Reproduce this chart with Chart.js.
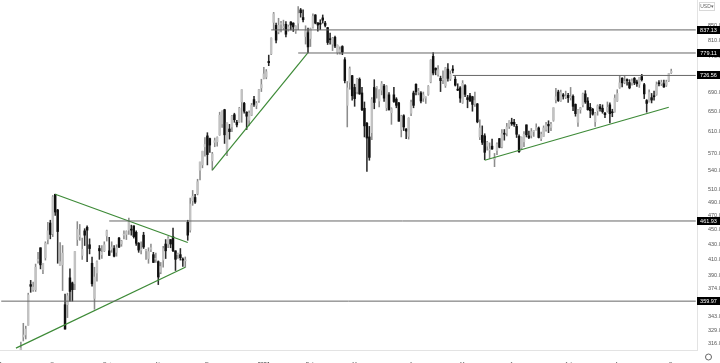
<!DOCTYPE html>
<html>
<head>
<meta charset="utf-8">
<script src="https://cdn.jsdelivr.net/npm/chart.js@4.4.1/dist/chart.umd.min.js"></script>
<style>
  html, body { margin: 0; padding: 0; background: #fff; }
  #wrap { width: 720px; height: 363px; position: relative; }
</style>
</head>
<body>
<div id="wrap"><canvas id="myChart"></canvas></div>
<script>
// daily candles, 2020-08-12 .. 2021-08-31, one line per month
const opens = [
  294,322,324,334,379,373,373,408,425,397,412,436,459,444,
  502,478,402,403,356,356,387,381,380,436,440,415,448,453,429,405,363,393,424,416,421,
  441,421,423,424,419,438,430,442,443,449,450,455,446,431,422,442,421,411,423,416,410,407,
  394,409,430,430,436,440,421,416,416,410,408,460,449,492,497,503,541,550,582,602,
  597,557,590,591,604,625,653,574,615,619,643,628,628,669,666,648,632,642,674,662,672,699,
  720,723,759,777,857,849,832,852,843,852,837,858,855,834,855,891,870,820,830,
  815,844,877,856,855,869,855,843,813,801,818,780,781,795,763,662,711,726,700,
  691,718,688,656,626,600,608,700,699,671,694,703,657,684,647,684,675,667,614,641,615,601,646,
  688,707,690,688,677,677,685,712,771,743,729,720,717,704,741,719,741,718,696,699,668,
  704,678,682,680,665,665,600,603,602,583,576,583,560,575,597,582,607,607,620,628,
  628,620,601,580,591,623,602,603,610,613,617,597,601,614,624,618,632,674,690,671,684,679,
  683,678,681,664,628,653,663,686,671,658,654,629,651,659,656,646,650,663,648,649,671,
  700,720,711,716,711,710,720,712,707,724,706,672,669,678,682,685,710,708,708,705,715,733
];
const highs = [
  317,336,333,369,384,382,404,419,425,405,433,460,463,500,
  502,479,432,428,368,369,398,382,420,461,457,438,451,455,437,413,400,408,428,428,433,
  449,439,433,428,429,439,435,448,448,466,456,455,448,432,433,446,423,425,430,419,418,408,
  406,427,436,440,436,452,421,418,424,412,413,463,496,508,502,526,555,574,599,608,
  598,572,598,600,648,651,654,627,624,642,646,632,658,695,668,649,651,666,681,670,696,718,
  745,740,774,817,884,855,868,860,863,859,850,859,856,848,900,895,891,848,842,
  842,880,878,856,864,877,860,844,829,818,821,799,794,797,768,713,746,727,707,
  720,721,700,669,628,620,678,717,702,695,713,707,704,689,657,700,678,668,642,643,616,637,673,
  692,708,698,691,690,680,704,763,780,744,749,725,737,745,754,737,749,724,708,702,715,
  706,683,687,681,690,666,633,621,606,592,589,596,570,589,597,614,614,626,631,636,
  634,624,604,600,610,623,611,616,612,625,619,609,621,628,631,628,657,698,694,694,687,692,
  687,700,684,665,654,658,688,693,678,666,656,648,663,664,663,648,669,667,654,684,695,
  726,722,725,719,717,719,722,716,722,729,709,674,695,687,692,712,715,716,716,716,731,741
];
const lows = [
  287,318,320,334,370,371,371,405,398,392,409,430,437,440,
  470,405,402,372,330,342,360,360,373,428,435,410,428,407,417,377,351,383,410,411,420,
  434,415,419,413,414,425,427,437,436,443,442,438,428,419,417,424,410,405,420,406,406,379,
  392,400,411,425,425,420,396,411,409,401,400,435,446,485,488,501,525,545,565,550,
  572,541,582,583,603,618,588,566,596,610,628,619,628,628,646,614,622,641,660,655,668,691,
  719,719,749,775,838,804,827,832,838,819,834,837,833,828,838,871,858,801,780,
  795,842,853,834,838,855,845,800,801,785,792,776,776,775,710,619,696,673,660,
  686,685,651,600,539,558,595,655,677,659,684,670,651,652,624,668,657,630,600,612,597,596,641,
  657,684,684,667,670,666,683,710,728,728,725,691,708,700,714,715,732,703,693,668,666,
  680,657,670,650,660,627,595,586,559,576,561,577,547,568,580,580,594,602,616,622,
  620,599,572,577,582,600,597,598,601,613,598,593,601,611,608,612,630,667,670,670,675,676,
  668,673,651,640,620,646,659,666,652,637,642,620,642,650,646,637,648,627,639,648,670,
  698,701,708,705,697,705,706,702,700,714,676,648,669,667,673,683,703,704,700,702,713,731
];
const closes = [
  311,324,330,367,377,376,400,410,403,405,431,448,443,498,
  475,447,407,418,330,366,371,373,420,450,442,423,442,449,424,380,388,407,421,419,429,
  448,415,426,414,425,426,434,442,447,461,449,440,431,422,423,426,421,420,425,406,411,388,
  401,424,421,438,430,421,410,417,412,409,408,442,487,499,490,522,555,574,586,568,
  585,569,593,599,642,650,604,627,610,640,633,623,656,695,650,640,646,662,664,666,695,706,
  730,735,756,816,880,811,849,854,845,826,845,850,845,847,881,883,864,835,794,
  840,873,855,850,852,863,849,805,812,816,796,798,787,781,715,699,742,682,676,
  718,686,653,621,598,563,674,668,700,694,708,677,702,653,655,670,662,630,640,619,611,636,668,
  662,691,692,671,684,677,702,762,732,739,740,715,719,744,720,729,738,705,694,677,709,
  685,674,671,664,672,629,617,590,572,590,577,578,563,587,581,606,605,619,631,625,
  624,605,573,599,605,604,599,610,610,618,599,605,617,623,621,624,657,680,672,689,681,680,
  678,679,660,645,653,657,686,669,653,651,644,646,661,655,649,643,658,645,647,677,687,
  710,710,711,715,699,714,710,708,722,717,686,666,689,673,680,706,708,711,701,712,731,736
];
const firstCandle = "2020-08-12";

const holidays = ["2020-09-07","2020-11-26","2020-12-25","2021-01-01","2021-01-18",
  "2021-02-15","2021-04-02","2021-05-31","2021-07-05","2021-09-06"];

const tickMonths = ["2020-08","2020-09","2020-10","2020-11","2020-12","2021-01","2021-02",
  "2021-03","2021-04","2021-05","2021-06","2021-07","2021-08","2021-09"];
const tickNames = ["Aug","Sep","Oct","Nov","Dec","2021","Feb","Mar","Apr","May","Jun","Jul","Aug","Sep"];
const yTicks = [316,329,343,359,374,390,410,430,450,470,490,510,540,570,610,650,690,730,770,810,850];

// horizontal levels: [value, start date]
const levels = [[837.13,"2021-01-07"],[779.11,"2021-01-25"],[726.56,"2021-04-26"],[461.93,"2020-10-02"],[359.97,"2020-07-31"]];
// trendlines: [date1, price1, date2, price2]
const trendlines = [
  ["2020-08-10",311,"2020-11-16",400],
  ["2020-09-01",502,"2020-11-17",432],
  ["2020-12-02",541,"2021-01-29",780],
  ["2021-05-13",558,"2021-08-30",658]
];

function tradingDays(from, to) {
  let out = [];
  let d = new Date(from + "T00:00:00Z");
  let end = new Date(to + "T00:00:00Z");
  while (d <= end) {
    let s = d.toISOString().slice(0, 10);
    let wd = d.getUTCDay();
    if (wd !== 0 && wd !== 6 && holidays.indexOf(s) < 0) out.push(s);
    d.setUTCDate(d.getUTCDate() + 1);
  }
  return out;
}

const labels = tradingDays("2020-07-31", "2021-09-15");
const start = labels.indexOf(firstCandle);
const lastLabel = labels[labels.length - 1];
const fontFam = "'Liberation Sans', Arial, sans-serif";

let wickData = labels.map(() => null);
let bodyData = labels.map(() => null);
let bodyColors = labels.map(() => "#000");
let wickColors = labels.map(() => "#000");
closes.forEach((c, i) => {
  let k = start + i;
  let up = c >= opens[i];
  wickData[k] = [lows[i], highs[i]];
  bodyData[k] = [opens[i], c];
  bodyColors[k] = up ? "#c2c2c2" : "#111";
  wickColors[k] = up ? "#8c8c8c" : "#2a2a2a";
});

let datasets = [
  { data: bodyData, backgroundColor: bodyColors, barThickness: 1.8, minBarLength: 1, grouped: false, order: 1 },
  { data: wickData, backgroundColor: wickColors, barThickness: 0.9, minBarLength: 1, grouped: false, order: 2 }
];
levels.forEach(l => {
  datasets.push({
    type: "line", data: [{ x: l[1], y: l[0] }, { x: lastLabel, y: l[0] }],
    borderColor: "#666", borderWidth: 1, pointRadius: 0, order: 0
  });
});
trendlines.forEach(t => {
  datasets.push({
    type: "line", data: [{ x: t[0], y: t[1] }, { x: t[2], y: t[3] }],
    borderColor: "#3d8a37", borderWidth: 1.2, pointRadius: 0, order: 0
  });
});

const extras = {
  id: "extras",
  afterDraw(chart) {
    const c = chart.ctx;
    const y = chart.scales.y;
    c.save();
    c.font = "5.5px " + fontFam;
    c.textAlign = "center";
    c.textBaseline = "middle";
    levels.forEach(l => {
      let py = Math.round(y.getPixelForValue(l[0]));
      c.fillStyle = "#000";
      c.fillRect(697, py - 4, 23, 8);
      c.fillStyle = "#fff";
      c.fillText(l[0].toFixed(2), 708.5, py + 0.5);
    });
    // currency box
    c.strokeStyle = "#d8d8d8";
    c.lineWidth = 1;
    c.strokeRect(699.5, 2.5, 15, 8);
    c.fillStyle = "#666";
    c.font = "5px " + fontFam;
    c.fillText("USD\u25BE", 707, 7);
    // settings gear
    c.strokeStyle = "#666";
    c.lineWidth = 1;
    c.beginPath();
    c.arc(708.5, 357, 3, 0, Math.PI * 2);
    c.stroke();
    c.restore();
  }
};

new Chart(document.getElementById("myChart"), {
  type: "bar",
  data: { labels: labels, datasets: datasets },
  options: {
    responsive: true,
    maintainAspectRatio: false,
    animation: false,
    layout: { padding: 0 },
    plugins: { legend: { display: false }, tooltip: { enabled: false } },
    scales: {
      x: {
        type: "category",
        offset: true,
        grid: { display: false },
        border: { display: true, color: "#e3e3e3" },
        ticks: {
          autoSkip: false, maxRotation: 0, minRotation: 0, padding: 3,
          color: "#555",
          font: ctx => ({ size: 5.5, family: fontFam,
            weight: ctx.tick && ctx.tick.label === "2021" ? "bold" : "normal" }),
          callback: function(value, index) {
            if (index === 0) return "";
            let cur = labels[index].slice(0, 7);
            if (labels[index - 1].slice(0, 7) === cur) return "";
            let m = tickMonths.indexOf(cur);
            return m < 0 ? "" : tickNames[m];
          }
        },
        afterFit: function(scale) {
          scale.height = 13;
          scale.paddingLeft = 0;
          scale.paddingRight = 0;
        }
      },
      y: {
        type: "logarithmic",
        position: "right",
        min: 309.2,
        max: 918.8,
        grid: { display: false },
        border: { display: true, color: "#e3e3e3" },
        ticks: {
          padding: 3, color: "#555",
          font: { size: 5.5, family: fontFam },
          callback: v => Number(v).toFixed(2)
        },
        afterBuildTicks: function(scale) {
          scale.ticks = yTicks.map(v => ({ value: v }));
        },
        afterFit: function(scale) {
          scale.width = 23;
          scale.paddingTop = 0;
          scale.paddingBottom = 0;
        }
      }
    }
  },
  plugins: [extras]
});
</script>
</body>
</html>
